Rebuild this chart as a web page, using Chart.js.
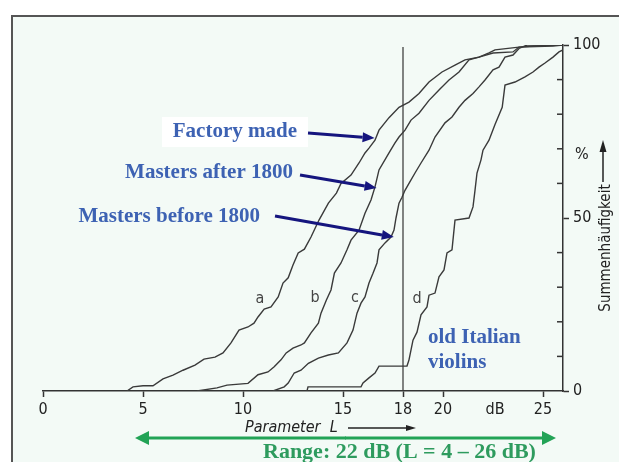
<!DOCTYPE html>
<html>
<head>
<meta charset="utf-8">
<script src="https://cdn.jsdelivr.net/npm/chart.js@4.4.1/dist/chart.umd.min.js"></script>
<style>
  html, body { margin: 0; padding: 0; background: #fff; }
  #wrap { width: 619px; height: 462px; }
</style>
</head>
<body>
<div id="wrap"><canvas id="chart" width="619" height="462"></canvas></div>
<script>
// ticks
const xTicks = [0, 5, 10, 15, 18, 20, 22.6, 25];
const xTickLabels = ['0', '5', '10', '15', '18', '20', 'dB', '25'];
const yTicks = [0, 10, 20, 30, 40, 50, 60, 70, 80, 90, 100];
const yMajor = [0, 50, 100];

// a - factory made
const factoryX = [4.2, 4.5, 5.0, 5.5, 6.0, 6.5, 7.0, 7.6, 8.05, 8.6, 9.0, 9.4, 9.8, 10.25, 10.55, 10.75, 11.06, 11.4, 11.76, 12.0, 12.26, 12.5, 12.76, 13.07, 13.4, 13.8, 14.27, 14.67, 14.9, 15.4, 15.8, 16.1, 16.3, 16.6, 16.8, 17.2, 17.3, 17.8, 18.3, 18.8, 19.3, 19.95, 20.6, 21.1, 21.8, 22.3, 22.6, 23.8, 25.5, 26];
const factoryY = [0, 1.2, 1.5, 1.5, 3.5, 4.6, 6, 7.5, 9.2, 9.8, 11, 13.9, 17.6, 18.5, 19.6, 21.4, 23.7, 24.3, 27.2, 31.2, 32.7, 36.4, 39.9, 41, 44.5, 49.4, 54.3, 57.2, 60, 62.4, 65.9, 68.8, 70.2, 72.5, 75.4, 78.3, 79, 82, 83.5, 86, 89.3, 92.2, 94.2, 95.7, 96.5, 97.7, 98.6, 99.4, 99.7, 100];

// b - masters after 1800
const afterX = [7.7, 8.7, 9.2, 10.25, 10.75, 11.25, 11.56, 11.9, 12.16, 12.5, 12.9, 13.07, 13.4, 13.77, 13.9, 14.17, 14.4, 14.57, 14.9, 15.2, 15.4, 15.8, 16.1, 16.4, 16.6, 16.8, 17.3, 17.6, 17.8, 18.1, 18.4, 18.8, 19.3, 19.8, 20.3, 20.8, 21.3, 21.8, 22.5, 23.5, 23.8, 24.5, 26];
const afterY = [0, 0.9, 1.7, 2.2, 4.7, 5.5, 7, 9, 11, 12.4, 13.3, 13.9, 16.8, 19.6, 22.5, 26.3, 29.2, 34.1, 37, 40.8, 43.6, 46.5, 51.4, 55.2, 59, 63.9, 68.8, 71.7, 73.4, 75.4, 78.3, 80.3, 84, 87, 89.9, 92.2, 95.7, 96.5, 97.7, 98, 99.4, 99.7, 100];

// c - masters before 1800
const beforeX = [11.5, 12.06, 12.26, 12.56, 12.9, 13.27, 13.77, 14.27, 14.77, 15.2, 15.5, 15.7, 15.9, 16.1, 16.3, 16.5, 16.7, 16.8, 17.1, 17.4, 17.55, 17.65, 17.8, 17.95, 18.1, 18.3, 18.6, 18.9, 19.3, 19.6, 20.1, 20.45, 20.8, 21.1, 21.5, 21.8, 22.1, 22.5, 22.8, 23.1, 23.5, 23.8, 24.2, 26];
const beforeY = [0, 1.2, 2.3, 5.2, 6, 8, 9.5, 10.4, 11, 13.9, 17.6, 22.5, 25.4, 27.2, 31.2, 34, 37, 40.8, 42.8, 44.5, 46.5, 50, 54.3, 56, 58, 60, 63, 65.9, 69.6, 73.4, 77.5, 79.2, 82, 84, 86, 87.9, 89.9, 92.8, 93.6, 96.5, 97.1, 99, 100, 100];

// d - old Italian violins
const italianX = [13.2, 13.25, 15.9, 16.0, 16.3, 16.6, 16.8, 18.2, 18.3, 18.5, 18.7, 18.9, 19.2, 19.3, 19.6, 19.8, 20.05, 20.2, 20.45, 20.6, 21.3, 21.5, 21.6, 21.7, 21.9, 22.0, 22.3, 22.6, 22.96, 23.1, 23.6, 24.1, 24.5, 24.8, 25.1, 25.5, 25.8, 26];
const italianY = [0, 1.2, 1.2, 2.3, 3.8, 5.2, 7.2, 7.2, 9, 14.7, 17, 22, 24.3, 27.7, 28.3, 33, 35, 39.9, 40.8, 49.4, 50, 53.2, 58, 63, 66.8, 69.6, 72.5, 77, 82, 88.4, 89.3, 90.8, 92.2, 93.6, 94.8, 96.5, 98, 98.6];

// vertical reference line at L = 18 dB
const markX = [18, 18];
const markY = [0, 99.4];

const toPoints = (xs, ys) => xs.map((x, i) => ({ x: x, y: ys[i] }));

const axisFont = { family: "'Liberation Sans Narrow', 'DejaVu Sans Condensed', sans-serif", size: 16 };
const lineStyle = { showLine: true, pointRadius: 0, borderColor: '#3a3a3a', borderWidth: 1.4, fill: false, tension: 0 };

function arrow(c, x1, y1, x2, y2, color, w, hl, hw) {
  const a = Math.atan2(y2 - y1, x2 - x1);
  const bx = x2 - hl * Math.cos(a), by = y2 - hl * Math.sin(a);
  c.strokeStyle = color; c.fillStyle = color; c.lineWidth = w;
  c.beginPath(); c.moveTo(x1, y1); c.lineTo(bx, by); c.stroke();
  c.beginPath();
  c.moveTo(x2, y2);
  c.lineTo(bx + hw / 2 * Math.sin(a), by - hw / 2 * Math.cos(a));
  c.lineTo(bx - hw / 2 * Math.sin(a), by + hw / 2 * Math.cos(a));
  c.closePath(); c.fill();
}

const decor = {
  id: 'decor',
  beforeDraw(chart) {
    const c = chart.ctx;
    c.save();
    c.fillStyle = '#ffffff';
    c.fillRect(0, 0, chart.width, chart.height);
    c.fillStyle = '#f3faf6';
    c.fillRect(12, 16, chart.width - 12, chart.height - 16);
    c.strokeStyle = '#555'; c.lineWidth = 2;
    c.beginPath(); c.moveTo(12, chart.height); c.lineTo(12, 16); c.lineTo(chart.width, 16); c.stroke();
    c.restore();
  },
  afterDraw(chart) {
    const c = chart.ctx;
    const sx = chart.scales.x, sy = chart.scales.y;
    const area = chart.chartArea;
    c.save();

    // inward minor ticks on the right axis
    c.strokeStyle = '#333'; c.lineWidth = 1.5;
    yTicks.filter(v => !yMajor.includes(v)).forEach(v => {
      const py = sy.getPixelForValue(v);
      c.beginPath(); c.moveTo(area.right - 6, py); c.lineTo(area.right, py); c.stroke();
    });

    // curve letters
    c.fillStyle = '#444';
    c.font = "16px 'Liberation Sans Narrow', 'DejaVu Sans Condensed', sans-serif";
    c.textAlign = 'center'; c.textBaseline = 'middle';
    c.fillText('a', 260, 299);
    c.fillText('b', 315, 298);
    c.fillText('c', 355, 298);
    c.fillText('d', 417, 299);

    // blue labels
    c.fillStyle = '#ffffff';
    c.fillRect(162, 117, 146, 30);
    c.fillStyle = '#3d62b3';
    c.font = "bold 21px 'Liberation Serif', serif";
    c.textAlign = 'right';
    c.fillText('Factory made', 297, 132);
    c.fillText('Masters after 1800', 293, 173);
    c.fillText('Masters before 1800', 260, 217);
    c.textAlign = 'left';
    c.fillText('old Italian', 428, 338);
    c.fillText('violins', 428, 363);

    const navy = '#15157e';
    arrow(c, 308, 133, sx.getPixelForValue(16.58), sy.getPixelForValue(73.1), navy, 3, 12, 10);
    arrow(c, 300, 175, sx.getPixelForValue(16.68), sy.getPixelForValue(58.7), navy, 3, 12, 10);
    arrow(c, 275, 216, sx.getPixelForValue(17.54), sy.getPixelForValue(44.5), navy, 3, 12, 10);

    // axis title
    c.fillStyle = '#222';
    c.font = "italic 16px 'Liberation Sans Narrow', 'DejaVu Sans Condensed', sans-serif";
    c.textAlign = 'left';
    c.fillText('Parameter  L', 245, 428);
    arrow(c, 348, 428, 416, 428, '#222', 1.5, 10, 6);

    // right axis title
    c.font = "16px 'Liberation Sans Narrow', 'DejaVu Sans Condensed', sans-serif";
    c.fillText('%', 575, 155);
    arrow(c, 603, 182, 603, 140, '#222', 1.5, 12, 7);
    c.translate(606, 248);
    c.rotate(-Math.PI / 2);
    c.textAlign = 'center';
    c.font = "15px 'Liberation Sans Narrow', 'DejaVu Sans Condensed', sans-serif";
    c.fillText('Summenhäufigkeit', 0, 0);
    c.setTransform(1, 0, 0, 1, 0, 0);

    // range arrow
    const green = '#22a356';
    arrow(c, 345, 438, 556, 438, green, 3, 14, 14);
    arrow(c, 346, 438, 135, 438, green, 3, 14, 14);
    c.fillStyle = '#2e9b5e';
    c.font = "bold 22px 'Liberation Serif', serif";
    c.textAlign = 'left';
    c.fillText('Range: 22 dB (L = 4 \u2013 26 dB)', 263, 452);

    c.restore();
  }
};

new Chart(document.getElementById('chart'), {
  type: 'scatter',
  data: {
    datasets: [
      Object.assign({ label: 'a', data: toPoints(factoryX, factoryY) }, lineStyle),
      Object.assign({ label: 'b', data: toPoints(afterX, afterY) }, lineStyle),
      Object.assign({ label: 'c', data: toPoints(beforeX, beforeY) }, lineStyle),
      Object.assign({ label: 'd', data: toPoints(italianX, italianY) }, lineStyle),
      Object.assign({ label: '18 dB', data: toPoints(markX, markY) }, lineStyle, { borderWidth: 1.2, borderColor: '#333' })
    ]
  },
  options: {
    responsive: false,
    animation: false,
    layout: { padding: { left: 43, top: 45, right: 0, bottom: 0 } },
    plugins: { legend: { display: false }, tooltip: { enabled: false } },
    scales: {
      x: {
        type: 'linear', position: 'bottom', min: 0, max: 26,
        afterBuildTicks: s => { s.ticks = xTicks.map(v => ({ value: v })); },
        afterFit: s => { s.height = 71; },
        ticks: {
          autoSkip: false, maxRotation: 0, padding: 3, color: '#222', font: axisFont,
          callback: v => xTickLabels[xTicks.indexOf(v)]
        },
        grid: {
          drawOnChartArea: false, drawTicks: true, tickLength: 6, tickWidth: 1.5,
          tickColor: ctx => (ctx.tick && ctx.tick.value === 22.6) ? 'rgba(0,0,0,0)' : '#333'
        },
        border: { display: true, color: '#333', width: 1.5 }
      },
      y: {
        type: 'linear', position: 'right', min: 0, max: 100,
        afterBuildTicks: s => { s.ticks = yTicks.map(v => ({ value: v })); },
        afterFit: s => { s.width = 56; },
        ticks: {
          padding: 4, color: '#222', font: axisFont,
          callback: v => yMajor.includes(v) ? String(v) : ''
        },
        grid: {
          drawOnChartArea: false, drawTicks: true, tickLength: 6, tickWidth: 1.5,
          tickColor: ctx => (ctx.tick && yMajor.includes(ctx.tick.value)) ? '#333' : 'rgba(0,0,0,0)'
        },
        border: { display: true, color: '#333', width: 1.5 }
      }
    }
  },
  plugins: [decor]
});
</script>
</body>
</html>
